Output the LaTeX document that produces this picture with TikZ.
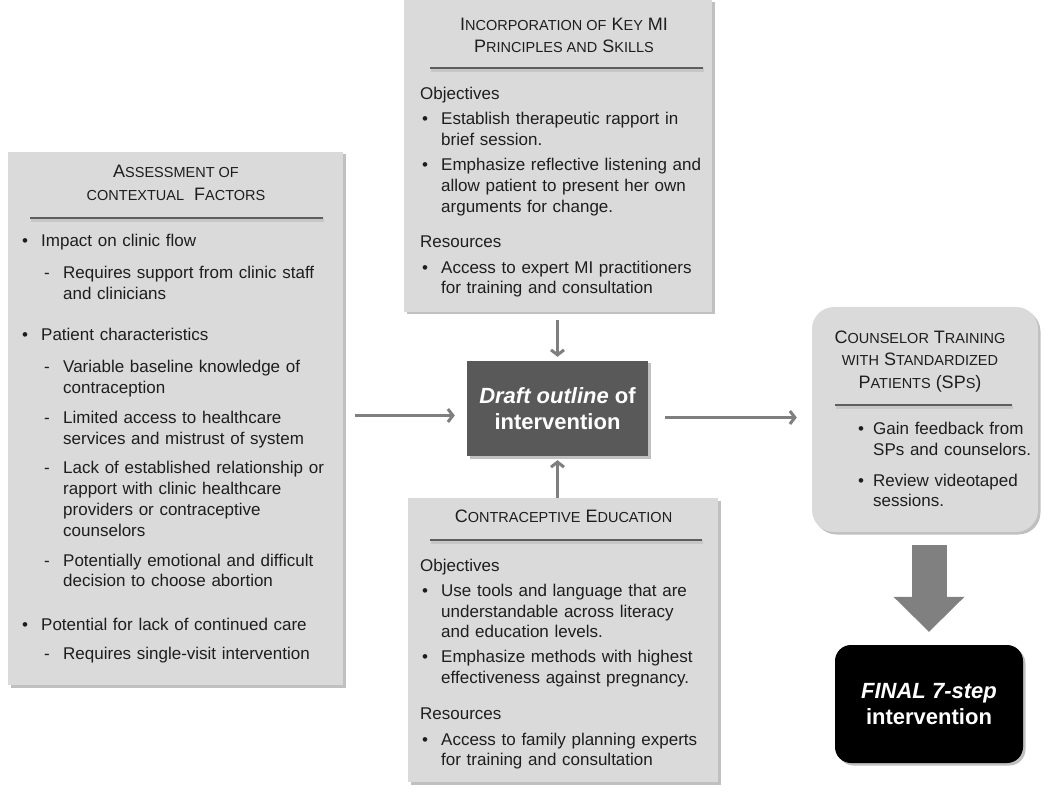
\documentclass[tikz,border=0pt]{standalone}
\usepackage{fontspec}
\setmainfont{Liberation Sans}
\usetikzlibrary{arrows.meta,positioning,shadows}

\definecolor{panelgray}{HTML}{DADADA}
\definecolor{draftgray}{HTML}{595959}
\definecolor{linkgray}{HTML}{7F7F7F}
\definecolor{rulegray}{HTML}{5E5E5E}
\definecolor{inkgray}{HTML}{1E1E1E}

% small letters of the box titles
\newcommand\scap[1]{{\fontsize{14.5}{22.5}\selectfont #1}}
% list lines: bullet, dash, plain heading
\newcommand\bitem[2][21]{\par\leftskip=#1pt\noindent\strut\llap{\makebox[\dimexpr#1pt-2pt\relax][l]{\textbullet}}#2\par}
\newcommand\ditem[1]{\par\leftskip=43pt\noindent\strut\llap{\makebox[19pt][l]{-}}#1\par}
\newcommand\head[1]{\par\leftskip=0pt\noindent\strut#1\par}

\begin{document}
\begin{tikzpicture}[
  x=1pt, y=-1pt,
  panel/.style={fill=panelgray, inner sep=0pt,
    drop shadow={shadow xshift=2.5pt, shadow yshift=-2.5pt, fill=black!45, opacity=.55}},
  boxtitle/.style={align=center, inner sep=0pt, text=inkgray, font=\fontsize{18}{22.5}\selectfont},
  boxbody/.style={anchor=north west, align=left, inner sep=0pt, text=inkgray, font=\fontsize{17}{20.8}\selectfont},
  keybox/.style={panel, text=white, align=center, font=\bfseries\fontsize{22}{26}\selectfont},
  titlerule/.style={draw=rulegray, line width=2.6pt},
  ruleshade/.style={draw=black!22, line width=3.4pt},
  link/.style={draw=linkgray, line width=3pt, -{Straight Barb[length=5pt,width=13pt]}},
  bigarrow/.style={draw=black!50, line width=35pt, -{Triangle[length=35pt,width=71pt,line width=0pt]}}
]
\useasboundingbox (0,0) rectangle (1050,794);

% boxes
\node[panel, minimum width=335pt, minimum height=533pt] (ctx) at (175.5,418.5) {};
\node[panel, minimum width=308pt, minimum height=312pt] (mi) at (558,156) {};
\node[panel, minimum width=310pt, minimum height=284pt] (edu) at (563,640) {};
\node[panel, rounded corners=22pt, minimum width=226pt, minimum height=225pt] (sp) at (925,419.5) {};
\node[keybox, fill=draftgray, minimum width=181pt, minimum height=95pt] (draft) at (557.5,408.5)
  {\textit{Draft outline} of\\intervention};
\node[keybox, fill=black, rounded corners=16pt, minimum width=188pt, minimum height=118pt] (fin) at (929,704)
  {\textit{FINAL 7-step}\\intervention};

% titles
\node[boxtitle] (ctxtitle) at (176,183) {A\scap{SSESSMENT OF}\\\scap{CONTEXTUAL}\ \ F\scap{ACTORS}};
\node[boxtitle] (mititle) at (564,35.5) {I\scap{NCORPORATION OF} K\scap{EY} MI\\P\scap{RINCIPLES AND} S\scap{KILLS}};
\node[boxtitle] (edutitle) at (563.5,516.5) {C\scap{ONTRACEPTIVE} E\scap{DUCATION}};
\node[boxtitle] (sptitle) at (920,361.5) {C\scap{OUNSELOR} T\scap{RAINING}\\\scap{WITH} S\scap{TANDARDIZED}\\P\scap{ATIENTS} (SP\scap{S})};

\foreach \xa/\xb/\yy in {30/323/218, 430/703/68, 430/702/540, 835/1012/405} {
  \draw[ruleshade] (\xa+1,\yy+2) -- (\xb+1,\yy+2);
  \draw[titlerule] (\xa,\yy) -- (\xb,\yy);
}

% box contents
\node[boxbody, text width=320pt] (ctxbody) at (20,225.5) {%
\bitem{Impact on clinic flow}\vspace{11pt}%
\ditem{Requires support from clinic staff\newline and clinicians}\vspace{21pt}%
\bitem{Patient characteristics}\vspace{11pt}%
\ditem{Variable baseline knowledge of\newline contraception}\vspace{9pt}%
\ditem{Limited access to healthcare\newline services and mistrust of system}\vspace{9pt}%
\ditem{Lack of established relationship or\newline rapport with clinic healthcare\newline providers or contraceptive\newline counselors}\vspace{9pt}%
\ditem{Potentially emotional and difficult\newline decision to choose abortion}\vspace{23pt}%
\bitem{Potential for lack of continued care}\vspace{8pt}%
\ditem{Requires single-visit intervention}};

\node[boxbody, text width=300pt] (mibody) at (420,78.5) {%
\head{Objectives}\vspace{4pt}%
\bitem{Establish therapeutic rapport in\newline brief session.}\vspace{5pt}%
\bitem{Emphasize reflective listening and\newline allow patient to present her own\newline arguments for change.}\vspace{14pt}%
\head{Resources}\vspace{5pt}%
\bitem{Access to expert MI practitioners\newline for training and consultation}};

\node[boxbody, text width=300pt] (edubody) at (420,550.5) {%
\head{Objectives}\vspace{4pt}%
\bitem{Use tools and language that are\newline understandable across literacy\newline and education levels.}\vspace{4pt}%
\bitem{Emphasize methods with highest\newline effectiveness against pregnancy.}\vspace{15pt}%
\head{Resources}\vspace{5pt}%
\bitem{Access to family planning experts\newline for training and consultation}};

\node[boxbody, text width=190pt] (spbody) at (856,413.5) {%
\bitem[17]{Gain feedback from\newline SPs and counselors.}\vspace{10pt}%
\bitem[17]{Review videotaped\newline sessions.}};

% connectors
\coordinate (draftin) at ([yshift=-7pt]draft.west);
\coordinate (draftout) at ([yshift=-9pt]draft.east);
\coordinate (spfoot) at ([yshift=-13pt]sp.south);
\draw[link, shorten <=12pt, shorten >=12pt] (draftin -| ctx.east) -- (draftin);
\draw[link, shorten <=17pt, shorten >=15pt] (draftout) -- (draftout -| sp.west);
\draw[link, shorten <=8pt, shorten >=4pt] (mi.south -| draft.north) -- (draft.north);
\draw[link, shorten >=4pt] (edu.north -| draft.south) -- (draft.south);
\draw[bigarrow] (spfoot -| fin.north) -- ([yshift=13pt]fin.north);
\end{tikzpicture}
\end{document}
